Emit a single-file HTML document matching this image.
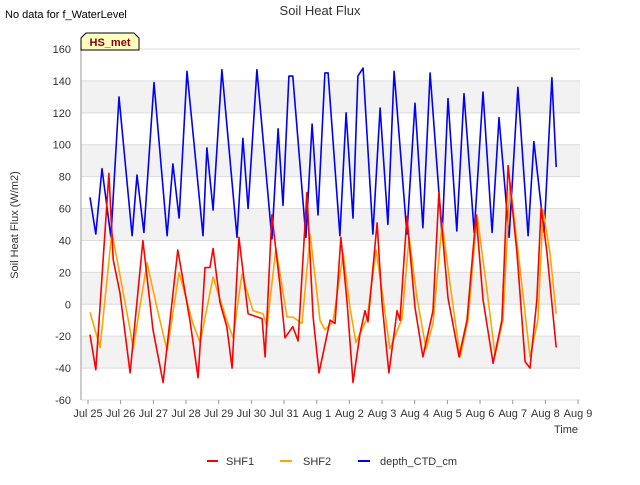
<!DOCTYPE html>
<html><head><meta charset="utf-8"><style>
body{margin:0;background:#fff;font-family:"Liberation Sans",sans-serif}
svg text{font-family:"Liberation Sans",sans-serif}
</style></head><body>
<svg id="chart" width="640" height="480" viewBox="0 0 640 480" xmlns="http://www.w3.org/2000/svg">
<rect width="640" height="480" fill="#fff"/>
<text x="320" y="15" text-anchor="middle" font-size="13" fill="#333">Soil Heat Flux</text>
<text x="5" y="18" font-size="11" fill="#000">No data for f_WaterLevel</text>
<g id="bands"></g><g id="grid"></g>
<g id="series"></g>
<g id="axes"></g>
<g>
<path d="M81,50 L81,38 L86,33 L134,33 L139,38 L139,50 Z" fill="#ffffc0" stroke="#000" stroke-width="1"/>
<text x="110" y="46" text-anchor="middle" font-size="11" font-weight="bold" fill="#8b0000">HS_met</text>
</g>
<text transform="translate(18,225) rotate(-90)" text-anchor="middle" font-size="11" fill="#333">Soil Heat Flux (W/m2)</text>
<text x="566" y="433" text-anchor="middle" font-size="11" fill="#333">Time</text>
<g>
<g><line x1="207" y1="461" x2="218" y2="461" stroke="#ff0000" stroke-width="2"/><text x="226" y="465" font-size="11" fill="#333">SHF1</text></g>
<g><line x1="280" y1="461" x2="292" y2="461" stroke="#ffa500" stroke-width="2"/><text x="303" y="465" font-size="11" fill="#333">SHF2</text></g>
<g><line x1="358" y1="461" x2="370" y2="461" stroke="#0000ff" stroke-width="2"/><text x="380" y="465" font-size="11" fill="#333">depth_CTD_cm</text></g>
</g>
</svg>
<script>
const xTickLabels=["Jul 25","Jul 26","Jul 27","Jul 28","Jul 29","Jul 30","Jul 31","Aug 1","Aug 2","Aug 3","Aug 4","Aug 5","Aug 6","Aug 7","Aug 8","Aug 9"];
const yTicks=[-60,-40,-20,0,20,40,60,80,100,120,140,160];
const depthDays=[0.06,0.24,0.43,0.70,0.95,1.35,1.50,1.71,2.02,2.42,2.60,2.79,3.03,3.52,3.64,3.83,4.10,4.56,4.74,4.90,5.17,5.63,5.82,5.97,6.15,6.27,6.67,6.86,7.04,7.25,7.35,7.71,7.90,8.11,8.26,8.42,8.72,8.94,9.18,9.37,9.76,10.01,10.25,10.47,10.84,11.02,11.29,11.51,11.82,12.09,12.37,12.58,12.89,13.16,13.47,13.65,13.96,14.20,14.33];
const depthVals=[67,44,85,42,130,43,81,45,139,43,88,54,146,43,98,59,147,42,104,60,147,41,110,62,143,143,42,113,56,145,145,43,120,54,143,148,44,123,50,146,44,126,48,145,43,129,46,132,45,133,45,117,42,136,43,102,45,142,86];
const shf1Days=[0.06,0.24,0.64,0.77,0.98,1.29,1.68,1.99,2.30,2.75,3.12,3.37,3.58,3.73,3.83,4.04,4.25,4.41,4.62,4.90,5.33,5.42,5.63,5.88,6.03,6.27,6.43,6.70,6.89,7.07,7.41,7.56,7.74,7.93,8.11,8.33,8.48,8.57,8.85,9.00,9.21,9.46,9.55,9.76,10.01,10.25,10.56,10.74,11.02,11.36,11.60,11.88,12.09,12.40,12.67,12.86,13.13,13.38,13.53,13.74,13.87,14.05,14.33];
const shf1Vals=[-19,-41,82,28,7,-43,40,-16,-49,34,-10,-46,23,23,35,1,-14,-40,42,-6,-9,-33,56,11,-21,-14,-23,70,-8,-43,-10,-12,42,1,-49,-18,-4,-11,51,1,-43,-4,-10,55,-2,-33,-4,70,4,-33,-10,56,3,-37,-10,87,32,-36,-40,3,61,32,-27];
const shf2Days=[0.06,0.37,0.73,0.89,1.29,1.38,1.81,2.11,2.42,2.79,3.21,3.43,3.83,4.25,4.44,4.71,5.05,5.36,5.48,5.75,6.09,6.27,6.55,6.80,7.10,7.25,7.50,7.81,8.02,8.20,8.54,8.82,9.03,9.24,9.61,9.83,10.07,10.35,10.56,10.84,11.08,11.39,11.63,11.91,12.15,12.46,12.70,12.92,13.22,13.53,13.77,13.93,14.14,14.33];
const shf2Vals=[-5,-27,45,28,-16,-28,26,-2,-29,20,-12,-24,17,-10,-21,19,-4,-6,-14,35,-8,-8,-12,44,-10,-16,-11,32,-2,-24,-9,34,4,-28,-9,42,4,-28,-12,51,13,-33,-10,56,19,-32,-10,76,23,-33,-10,59,32,-6];

const NS="http://www.w3.org/2000/svg";
const L=81,R=580,T=49,B=400,X0=88,DAY=32.67;
const xs=d=>X0+d*DAY;
const ys=v=>T+(160-v)*(B-T)/220;
function mk(tag,attrs,parent){const e=document.createElementNS(NS,tag);for(const k in attrs)e.setAttribute(k,attrs[k]);parent.appendChild(e);return e;}
const bands=document.getElementById('bands'),grid=document.getElementById('grid'),axes=document.getElementById('axes'),series=document.getElementById('series');
mk('rect',{x:L,y:T,width:R-L,height:B-T,fill:'#fff'},bands);
for(let i=0;i<yTicks.length-1;i++){
  const v=yTicks[i];
  if([-40,0,40,80,120].includes(v)){
    const r=mk('rect',{x:L,y:ys(v+20),width:R-L,height:ys(v)-ys(v+20),fill:'#f2f2f2'},bands);
    
    
  }
}
yTicks.forEach(v=>{
  const g=mk('line',{x1:L,x2:R,y1:ys(v),y2:ys(v),stroke:'#dcdcdc','stroke-width':1},grid);
  
  
  const t=mk('text',{x:71,y:ys(v)+4,'text-anchor':'end','font-size':11,fill:'#333'},axes);
  t.textContent=v;
  
  
});
xTickLabels.forEach((s,i)=>{
  const x=xs(i);
  const tk=mk('line',{x1:x,x2:x,y1:B,y2:B+4,stroke:'#999'},axes);
  
  
  const t=mk('text',{x:x,y:B+17,'text-anchor':'middle','font-size':11,fill:'#333'},axes);
  t.textContent=s;
  
  
});
const ax=mk('line',{x1:L,x2:L,y1:T,y2:B,stroke:'#999'},axes);


function line(days,vals,color,name){
  const p=mk('polyline',{points:days.map((d,i)=>xs(d).toFixed(1)+','+ys(vals[i]).toFixed(1)).join(' '),fill:'none',stroke:color,'stroke-width':1.6,'stroke-linejoin':'round'},series);
  
  
}
line(depthDays,depthVals,'#0000ff','depth-ctd-line');
line(shf2Days,shf2Vals,'#ffa500','shf2-line');
line(shf1Days,shf1Vals,'#ff0000','shf1-line');
</script>
</body></html>
